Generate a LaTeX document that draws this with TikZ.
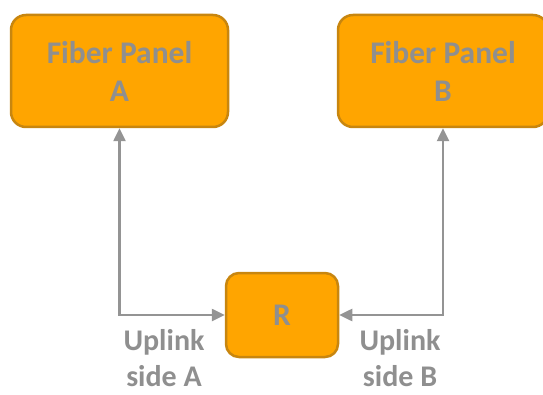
\documentclass[tikz,border=0pt]{standalone}
\usepackage{fontspec}
\setmainfont{Carlito}
\usetikzlibrary{arrows.meta}
\definecolor{boxfill}{HTML}{FFA500}
\definecolor{boxdraw}{HTML}{C8860F}
\definecolor{txtgrey}{HTML}{8F8F8F}
\definecolor{linegrey}{HTML}{949494}
\begin{document}
\begin{tikzpicture}[x=1pt,y=1pt,
  panel/.style={draw=boxdraw, fill=boxfill, line width=2.5pt, rounded corners=15pt,
    text=txtgrey, font=\fontsize{31.5}{38}\selectfont\bfseries, align=center, inner sep=0pt},
  lbl/.style={text=txtgrey, font=\fontsize{30}{36}\selectfont\bfseries, align=center, inner sep=0pt},
  conn/.style={draw=linegrey, line width=2.5pt, {Triangle[width=12pt,length=13pt]}-{Triangle[width=12pt,length=13pt]}}]
\useasboundingbox (0,0) rectangle (543,394);
\node[panel, minimum width=217pt, minimum height=112pt] (A) at (119.5,323) {Fiber Panel\\A};
\node[panel, minimum width=210pt, minimum height=112pt] (B) at (443,323) {Fiber Panel\\B};
\node[panel, minimum width=112pt, minimum height=84pt, rounded corners=13pt] (R) at (282,79) {R};
\node[lbl] (la) at (164,36) {Uplink\\side A};
\node[lbl] (lb) at (400,36) {Uplink\\side B};
\draw[conn] (A.south) |- (R.west);
\draw[conn] (B.south) |- (R.east);
\end{tikzpicture}
\end{document}
